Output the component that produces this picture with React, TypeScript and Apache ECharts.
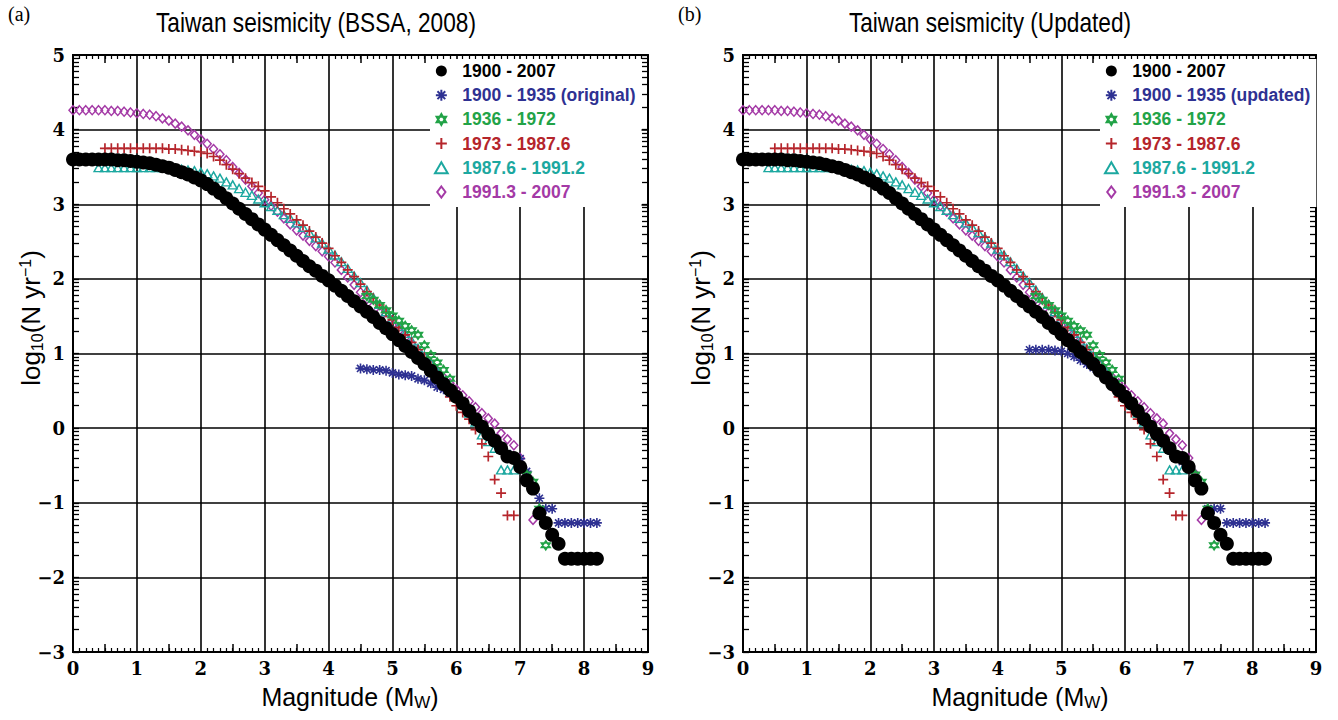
import React, { useEffect, useRef } from "react";
import * as echarts from "echarts";

// ---------- data (magnitude bins of 0.1, values = log10(N/yr)) ----------
const STEP = 0.1;

const blackStart = 0.0; // 1900 - 2007
const blackVals = [
  3.60, 3.60, 3.60, 3.60, 3.60, 3.60, 3.60, 3.59, 3.59, 3.58,
  3.57, 3.56, 3.55, 3.53, 3.51, 3.49, 3.46, 3.43, 3.40, 3.36,
  3.32, 3.27, 3.21, 3.15, 3.08, 3.01, 2.94, 2.87, 2.80, 2.73,
  2.66, 2.59, 2.52, 2.45, 2.38, 2.31, 2.24, 2.17, 2.11, 2.04,
  1.98, 1.91, 1.84, 1.77, 1.70, 1.63, 1.56, 1.49, 1.41, 1.34,
  1.26, 1.18, 1.10, 1.02, 0.94, 0.86, 0.77, 0.68, 0.59, 0.51,
  0.42, 0.33, 0.23, 0.12, 0.02, -0.08, -0.17, -0.27, -0.38, -0.40,
  -0.52, -0.70, -0.81, -1.14, -1.27, -1.43, -1.55, -1.75, -1.75, -1.75,
  -1.75, -1.75, -1.75,
];

const blueOrigStart = 4.5; // 1900 - 1935 (original)
const blueOrigVals = [
  0.80, 0.79, 0.78, 0.78, 0.77,
  0.74, 0.72, 0.71, 0.70, 0.66, 0.64, 0.60, 0.55, 0.52, 0.47,
  0.42, 0.33, 0.24, 0.14, 0.04, -0.05, -0.14, -0.24, -0.34, -0.40,
  -0.41, -0.58, -0.78, -0.94, -1.08, -1.08, -1.27, -1.27, -1.27, -1.27,
  -1.27, -1.27, -1.27,
];

const blueUpdStart = 4.5; // 1900 - 1935 (updated)
const blueUpdVals = [
  1.05, 1.05, 1.05, 1.05, 1.04,
  1.03, 1.00, 0.96, 0.91, 0.86, 0.81, 0.76, 0.69, 0.61, 0.52,
  0.44, 0.35, 0.25, 0.15, 0.05, -0.05, -0.15, -0.25, -0.36, -0.45,
  -0.52, -0.70, -0.83, -1.08, -1.08, -1.08, -1.27, -1.27, -1.27, -1.27,
  -1.27, -1.27, -1.27,
];

const greenStart = 4.6; // 1936 - 1972
const greenVals = [
  1.77, 1.72, 1.65, 1.58,
  1.51, 1.44, 1.37, 1.31, 1.25, 1.11, 0.98, 0.88, 0.78, 0.66,
  0.44, 0.35, 0.25, 0.14, 0.04, -0.06, -0.15, -0.25, -0.36, -0.42,
  -0.52, -0.62, -0.72, -1.08, -1.57,
];

const redStart = 0.5; // 1973 - 1987.6
const redVals = [
  3.75, 3.75, 3.75, 3.75, 3.75,
  3.75, 3.75, 3.75, 3.75, 3.75, 3.74, 3.74, 3.73, 3.72, 3.71,
  3.70, 3.68, 3.64, 3.59, 3.53, 3.47, 3.41, 3.35, 3.29, 3.24,
  3.18, 3.10, 3.02, 2.94, 2.87, 2.79, 2.72, 2.64, 2.56, 2.48,
  2.41, 2.31, 2.22, 2.12, 2.03, 1.93, 1.83, 1.74, 1.65, 1.55,
  1.45, 1.35, 1.25, 1.15, 1.05, 0.95, 0.83, 0.70, 0.55, 0.42,
  0.30, 0.21, 0.12, -0.02, -0.21, -0.38, -0.69, -0.87, -1.17, -1.17,
];

const tealStart = 0.4; // 1987.6 - 1991.2
const tealVals = [
  3.49, 3.49, 3.49, 3.49, 3.49, 3.49,
  3.49, 3.49, 3.49, 3.49, 3.49, 3.49, 3.48, 3.47, 3.46, 3.45,
  3.43, 3.41, 3.38, 3.35, 3.30, 3.26, 3.21, 3.16, 3.12, 3.07,
  3.02, 2.97, 2.92, 2.86, 2.81, 2.75, 2.69, 2.62, 2.55, 2.48,
  2.40, 2.32, 2.23, 2.14, 2.04, 1.95, 1.85, 1.75, 1.66, 1.56,
  1.46, 1.36, 1.27, 1.17, 1.07, 0.97, 0.87, 0.76, 0.64, 0.52,
  0.42, 0.31, 0.20, 0.08, -0.09, -0.18, -0.27, -0.56, -0.56, -0.56,
];

const purpleStart = 0.0; // 1991.3 - 2007
const purpleVals = [
  4.26, 4.26, 4.26, 4.26, 4.26, 4.26, 4.25, 4.25, 4.24, 4.23,
  4.22, 4.21, 4.20, 4.18, 4.15, 4.12, 4.08, 4.04, 3.99, 3.93,
  3.87, 3.81, 3.74, 3.67, 3.59, 3.50, 3.42, 3.33, 3.24, 3.15,
  3.06, 2.98, 2.90, 2.81, 2.73, 2.65, 2.58, 2.51, 2.44, 2.37,
  2.30, 2.22, 2.12, 2.02, 1.92, 1.82, 1.73, 1.64, 1.55, 1.46,
  1.38, 1.30, 1.21, 1.12, 1.03, 0.95, 0.86, 0.77, 0.68, 0.60,
  0.52, 0.44, 0.36, 0.28, 0.20, 0.13, 0.06, -0.07, -0.15, -0.23,
  -0.40, -0.61, -1.23,
];

const xHalfTicks = [0.5, 1.5, 2.5, 3.5, 4.5, 5.5, 6.5, 7.5, 8.5];
const yIntegers = [-3, -2, -1, 0, 1, 2, 3, 4, 5];

const titles = ["Taiwan seismicity (BSSA, 2008)", "Taiwan seismicity (Updated)"];
const panelTags = ["(a)", "(b)"];
const xTitle = "Magnitude (M{sub|W})";
const yTitle = "log{sub|10}(N yr{sup|\u22121})";
const NAME_BLACK = "1900 - 2007";
const NAME_BLUE = ["1900 - 1935 (original)", "1900 - 1935 (updated)"];
const NAME_GREEN = "1936 - 1972";
const NAME_RED = "1973 - 1987.6";
const NAME_TEAL = "1987.6 - 1991.2";
const NAME_PURPLE = "1991.3 - 2007";

// ---------- styles ----------
const C_BLACK = "#000000";
const C_BLUE = "#2e3192";
const C_GREEN = "#22a347";
const C_RED = "#b5252b";
const C_TEAL = "#1ca8a0";
const C_PURPLE = "#a43aa6";

const SYM_ASTER = "path://M0,-10L0,10M-10,0L10,0M-7.07,-7.07L7.07,7.07M-7.07,7.07L7.07,-7.07";
const SYM_PLUS = "path://M0,-10L0,10M-10,0L10,0";
const SYM_HEX = "path://M0,-10L8.66,5L-8.66,5ZM0,10L8.66,-5L-8.66,-5Z";
const SYM_TRI = "path://M0,-8.66L10,8.66L-10,8.66Z";
const SYM_DIAM = "path://M0,-10L7.5,0L0,10L-7.5,0Z";

const GRIDS = [
  { left: 73, top: 55, width: 575, height: 597 },
  { left: 743, top: 55, width: 573, height: 597 },
];

const SERIF = "'DejaVu Serif', serif";
const SANS = "'Liberation Sans', Arial, sans-serif";

function toPairs(start: number, vals: number[]) {
  return vals.map((v, i) => [Math.round((start + i * STEP) * 10) / 10, v]);
}

function yMinorTicks() {
  const out: number[] = [];
  for (let n = -3; n < 5; n++) {
    for (let k = 2; k <= 9; k++) out.push(n + Math.log10(k));
  }
  return out.concat(yIntegers);
}

function hollow(
  name: string,
  gi: number,
  data: number[][],
  symbol: string,
  size: number | number[],
  color: string,
  lw: number
) {
  return {
    type: "scatter",
    name,
    xAxisIndex: gi * 3,
    yAxisIndex: gi * 3,
    data,
    symbol,
    symbolSize: size,
    itemStyle: { color: "rgba(0,0,0,0)", borderColor: color, borderWidth: lw, opacity: 1 },
    emphasis: { disabled: true },
  };
}

function buildOption() {
  const series: any[] = [];
  const xAxes: any[] = [];
  const yAxes: any[] = [];
  const legends: any[] = [];
  const minor = yMinorTicks();

  GRIDS.forEach((g, gi) => {
    const axisLine = { show: true, onZero: false, lineStyle: { color: "#000", width: 2 } };
    const split = { show: true, lineStyle: { color: "#000", width: 1.6 } };
    const xTick = {
      show: true,
      inside: true,
      length: 8,
      customValues: xHalfTicks,
      lineStyle: { color: "#000", width: 1.5 },
    };
    const xMinor = { show: true, splitNumber: 10, length: 4, lineStyle: { color: "#000", width: 1.2 } };
    // bottom x: labels + grid lines
    xAxes.push({
      gridIndex: gi,
      type: "value",
      position: "bottom",
      min: 0,
      max: 9,
      interval: 1,
      axisLine,
      axisTick: { show: false },
      axisLabel: { fontFamily: SERIF, fontSize: 18, fontWeight: "bold", color: "#000", margin: 7 },
      splitLine: split,
    });
    // bottom x: ticks
    xAxes.push({
      gridIndex: gi,
      type: "value",
      position: "bottom",
      min: 0,
      max: 9,
      interval: 1,
      axisLine,
      axisTick: xTick,
      minorTick: xMinor,
      axisLabel: { show: false },
      splitLine: { show: false },
    });
    // top x: ticks
    xAxes.push({
      gridIndex: gi,
      type: "value",
      position: "top",
      min: 0,
      max: 9,
      interval: 1,
      axisLine,
      axisTick: xTick,
      minorTick: xMinor,
      axisLabel: { show: false },
      splitLine: { show: false },
    });
    // left y: labels + grid lines
    yAxes.push({
      gridIndex: gi,
      type: "value",
      position: "left",
      min: -3,
      max: 5,
      interval: 1,
      axisLine,
      axisTick: { show: false },
      axisLabel: {
        fontFamily: SERIF,
        fontSize: 18,
        fontWeight: "bold",
        color: "#000",
        margin: 8,
        formatter: (v: number) => (v < 0 ? "\u2212" + Math.abs(v) : String(v)),
      },
      splitLine: split,
    });
    const yTick = {
      show: true,
      inside: true,
      length: 6,
      customValues: minor,
      lineStyle: { color: "#000", width: 1.3 },
    };
    // left y: log minor ticks
    yAxes.push({
      gridIndex: gi,
      type: "value",
      position: "left",
      min: -3,
      max: 5,
      interval: 1,
      axisLine,
      axisTick: yTick,
      axisLabel: { show: false },
      splitLine: { show: false },
    });
    // right y: log minor ticks
    yAxes.push({
      gridIndex: gi,
      type: "value",
      position: "right",
      min: -3,
      max: 5,
      interval: 1,
      axisLine,
      axisTick: yTick,
      axisLabel: { show: false },
      splitLine: { show: false },
    });

    const blueName = NAME_BLUE[gi];
    const blueData = gi === 0 ? toPairs(blueOrigStart, blueOrigVals) : toPairs(blueUpdStart, blueUpdVals);

    series.push(hollow(NAME_PURPLE, gi, toPairs(purpleStart, purpleVals), SYM_DIAM, [8, 9], C_PURPLE, 1.5));
    series.push(hollow(NAME_TEAL, gi, toPairs(tealStart, tealVals), SYM_TRI, [9, 8], C_TEAL, 1.4));
    series.push(hollow(NAME_RED, gi, toPairs(redStart, redVals), SYM_PLUS, 10, C_RED, 1.7));
    series.push(hollow(blueName, gi, blueData, SYM_ASTER, 10, C_BLUE, 1.6));
    series.push(hollow(NAME_GREEN, gi, toPairs(greenStart, greenVals), SYM_HEX, 9, C_GREEN, 1.5));
    series.push({
      type: "scatter",
      name: NAME_BLACK,
      xAxisIndex: gi * 3,
      yAxisIndex: gi * 3,
      data: toPairs(blackStart, blackVals),
      symbol: "circle",
      symbolSize: 14,
      itemStyle: { color: C_BLACK, opacity: 1 },
      emphasis: { disabled: true },
    });

    const lt = (name: string, color: string) => ({ name, textStyle: { color } });
    legends.push({
      orient: "vertical",
      left: g.left + 357,
      top: 59,
      padding: [3, 6, 6, 4],
      backgroundColor: "#ffffff",
      itemGap: 6.2,
      itemWidth: 32,
      itemHeight: 11,
      selectedMode: false,
      textStyle: { fontFamily: SANS, fontSize: 17.5, fontWeight: "bold", lineHeight: 18 },
      data: [
        lt(NAME_BLACK, C_BLACK),
        lt(blueName, C_BLUE),
        lt(NAME_GREEN, C_GREEN),
        lt(NAME_RED, C_RED),
        lt(NAME_TEAL, C_TEAL),
        lt(NAME_PURPLE, C_PURPLE),
      ],
    });
  });

  const graphic: any[] = [];
  const titleCenters = [316, 990];
  const tagX = [8, 678];
  const xTitleCenters = [350, 1020];
  const yTitleX = [31, 701];
  const yTitleY = 318;
  GRIDS.forEach((_, gi) => {
    graphic.push({
      type: "text",
      x: titleCenters[gi],
      y: 9,
      scaleX: 0.84,
      style: {
        text: titles[gi],
        fontFamily: SANS,
        fontSize: 27,
        fill: "#000",
        align: "center",
        verticalAlign: "top",
      },
    });
    graphic.push({
      type: "text",
      x: tagX[gi],
      y: 4,
      style: {
        text: panelTags[gi],
        fontFamily: "'Liberation Serif', serif",
        fontSize: 20,
        fill: "#000",
        align: "left",
        verticalAlign: "top",
      },
    });
    graphic.push({
      type: "text",
      x: xTitleCenters[gi],
      y: 697,
      style: {
        text: xTitle,
        fontFamily: SANS,
        fontSize: 25,
        lineHeight: 28,
        fill: "#000",
        align: "center",
        verticalAlign: "middle",
        rich: {
          sub: { fontFamily: SANS, fontSize: 17, lineHeight: 10, verticalAlign: "bottom", fill: "#000" },
        },
      },
    });
    graphic.push({
      type: "text",
      x: yTitleX[gi],
      y: yTitleY,
      rotation: Math.PI / 2,
      style: {
        text: yTitle,
        fontFamily: SANS,
        fontSize: 26,
        lineHeight: 28,
        fill: "#000",
        align: "center",
        verticalAlign: "middle",
        rich: {
          sub: { fontFamily: SANS, fontSize: 16, lineHeight: 9, verticalAlign: "bottom", fill: "#000" },
          sup: { fontFamily: SANS, fontSize: 16, lineHeight: 15, verticalAlign: "top", fill: "#000" },
        },
      },
    });
  });

  return {
    animation: false,
    backgroundColor: "#ffffff",
    grid: GRIDS,
    xAxis: xAxes,
    yAxis: yAxes,
    legend: legends,
    series,
    graphic,
  };
}

export default function App() {
  const ref = useRef<HTMLDivElement>(null);
  useEffect(() => {
    if (!ref.current) return;
    const chart = echarts.init(ref.current, undefined, { renderer: "svg" });
    chart.setOption(buildOption() as any);
    return () => chart.dispose();
  }, []);
  return (
    <div
      ref={ref}
      style={{ position: "fixed", left: 0, top: 0, width: 1338, height: 720, background: "#fff" }}
    />
  );
}
